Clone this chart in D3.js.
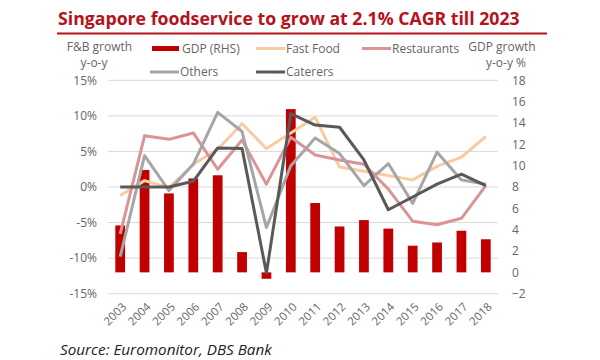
<!DOCTYPE html>
<html><head><meta charset="utf-8">
<script src="https://cdn.jsdelivr.net/npm/d3@7"></script>
<style>
html,body{margin:0;padding:0;background:#fff;}
svg{display:block;font-family:"Open Sans",sans-serif;}
</style></head>
<body><svg id="c" width="600" height="360"></svg>
<script>
const years = ["2003","2004","2005","2006","2007","2008","2009","2010","2011","2012","2013","2014","2015","2016","2017","2018"];
const gdp = [4.4, 9.6, 7.4, 8.8, 9.1, 1.9, -0.6, 15.3, 6.5, 4.3, 4.9, 4.1, 2.5, 2.8, 3.9, 3.1];
const fastFood = [-1.2, 0.9, -0.1, 3.2, 5.3, 8.9, 5.4, 7.6, 9.8, 2.8, 2.2, 1.6, 1.0, 2.9, 4.2, 7.1];
const restaurants = [-6.6, 7.2, 6.7, 7.6, 2.5, 6.6, 0.4, 7.0, 4.5, 3.8, 3.2, -0.3, -4.8, -5.3, -4.4, 0.2];
const others = [-9.8, 4.4, -0.5, 3.2, 10.5, 7.8, -5.7, 3.0, 6.9, 4.7, 0.2, 3.3, -2.3, 4.9, 1.0, 0.4];
const caterers = [0, 0, 0, 0.8, 5.5, 5.4, -12.1, 10.3, 8.7, 8.4, 3.8, -3.2, -1.4, 0.4, 1.8, 0.2];
const leftTicks = [-15, -10, -5, 0, 5, 10, 15];
const rightTicks = [-2, 0, 2, 4, 6, 8, 10, 12, 14, 16, 18];

const title = "Singapore foodservice to grow at 2.1% CAGR till 2023";
const source = "Source: Euromonitor, DBS Bank";

const svg = d3.select("#c");
const red = "#C00000";
const gray = "#666";

// Title
const t = svg.append("text").attr("x", 58).attr("y", 25).attr("fill", "#B5121B")
  .attr("font-weight", 700).attr("font-size", 18).text(title);
let tw = t.node().getComputedTextLength();
t.attr("font-size", 18 * 462 / tw);
svg.append("line").attr("x1", 57).attr("x2", 547).attr("y1", 33.5).attr("y2", 33.5)
  .attr("stroke", "#B5121B").attr("stroke-width", 2);

const x = d3.scaleBand().domain(years).range([108, 498]).paddingInner(0.6).paddingOuter(0.3);
const yL = d3.scaleLinear().domain([-15, 15]).range([293.7, 80.3]);
const yR = d3.scaleLinear().domain([-2, 18]).range([293.7, 80.3]);
const cx = d => x(d) + x.bandwidth() / 2;

// gridlines
svg.append("g").selectAll("line").data(leftTicks).join("line")
  .attr("x1", 108).attr("x2", 498).attr("y1", d => yL(d)).attr("y2", d => yL(d))
  .attr("stroke", "#D9D9D9").attr("stroke-width", 1);

// axes
const ga = svg.append("g").attr("transform", "translate(108,0)")
  .call(d3.axisLeft(yL).tickValues(leftTicks).tickSize(0).tickPadding(11).tickFormat(d => d + "%"));
const gb = svg.append("g").attr("transform", "translate(498,0)")
  .call(d3.axisRight(yR).tickValues(rightTicks).tickSize(0).tickPadding(14));
const gx = svg.append("g").attr("transform", "translate(0,293.7)")
  .call(d3.axisBottom(x).tickSize(0).tickPadding(0));
[ga, gb, gx].forEach(g => {
  g.select(".domain").remove();
  g.selectAll("text").attr("fill", gray).attr("font-size", 12).attr("font-family", '"Open Sans",sans-serif');
});
gx.selectAll("text").attr("font-size", 11.5).attr("text-anchor", "end").attr("dy", "0.35em").attr("y", 0)
  .attr("transform", "translate(4,11) rotate(-45)");

// bars
svg.append("g").selectAll("rect").data(years).join("rect")
  .attr("x", d => x(d)).attr("width", x.bandwidth())
  .attr("y", (d, i) => Math.min(yR(gdp[i]), yR(0)))
  .attr("height", (d, i) => Math.abs(yR(gdp[i]) - yR(0)))
  .attr("fill", red);

// lines
const seriesList = [
  {name: "Fast Food", vals: fastFood, color: "#F9CBA1"},
  {name: "Restaurants", vals: restaurants, color: "#DA9494"},
  {name: "Others", vals: others, color: "#A6A6A6"},
  {name: "Caterers", vals: caterers, color: "#595959"}
];
const line = d3.line().x(d => cx(d.y)).y(d => yL(d.v));
seriesList.forEach(s => {
  svg.append("path").datum(years.map((y, i) => ({y, v: s.vals[i]})))
    .attr("d", line).attr("fill", "none").attr("stroke", s.color).attr("stroke-width", 3)
    .attr("stroke-linejoin", "round");
});

// axis titles
const at = svg.append("g").attr("fill", gray).attr("font-size", 12).attr("text-anchor", "middle");
at.append("text").attr("x", 99.5).attr("y", 50.5).text("F&B growth");
at.append("text").attr("x", 94).attr("y", 67).text("y-o-y");
at.append("text").attr("x", 502).attr("y", 50.5).text("GDP growth");
at.append("text").attr("x", 506).attr("y", 67).text("y-o-y %");

// legend
const lg = svg.append("g").attr("font-size", 12).attr("fill", gray);
const legendItems = [
  {label: "GDP (RHS)", color: red, x: 152, y: 48.5, bar: true},
  {label: "Fast Food", color: "#F9CBA1", x: 256, y: 48.5},
  {label: "Restaurants", color: "#DA9494", x: 362, y: 48.5},
  {label: "Others", color: "#A6A6A6", x: 150, y: 72},
  {label: "Caterers", color: "#595959", x: 256, y: 72}
];
legendItems.forEach(it => {
  if (it.bar) {
    lg.append("rect").attr("x", it.x).attr("y", it.y - 2.5).attr("width", 27).attr("height", 5).attr("fill", it.color);
  } else {
    lg.append("line").attr("x1", it.x).attr("x2", it.x + 29).attr("y1", it.y).attr("y2", it.y)
      .attr("stroke", it.color).attr("stroke-width", 3);
  }
  lg.append("text").attr("x", it.x + 30).attr("y", it.y).attr("dy", "0.35em").text(it.label);
});

// source
const s = svg.append("text").attr("x", 60).attr("y", 355).attr("font-style", "italic")
  .attr("font-size", 16).attr("fill", "#222").text(source);
let sw = s.node().getComputedTextLength();
s.attr("font-size", 16 * 212 / sw);
</script></body></html>
